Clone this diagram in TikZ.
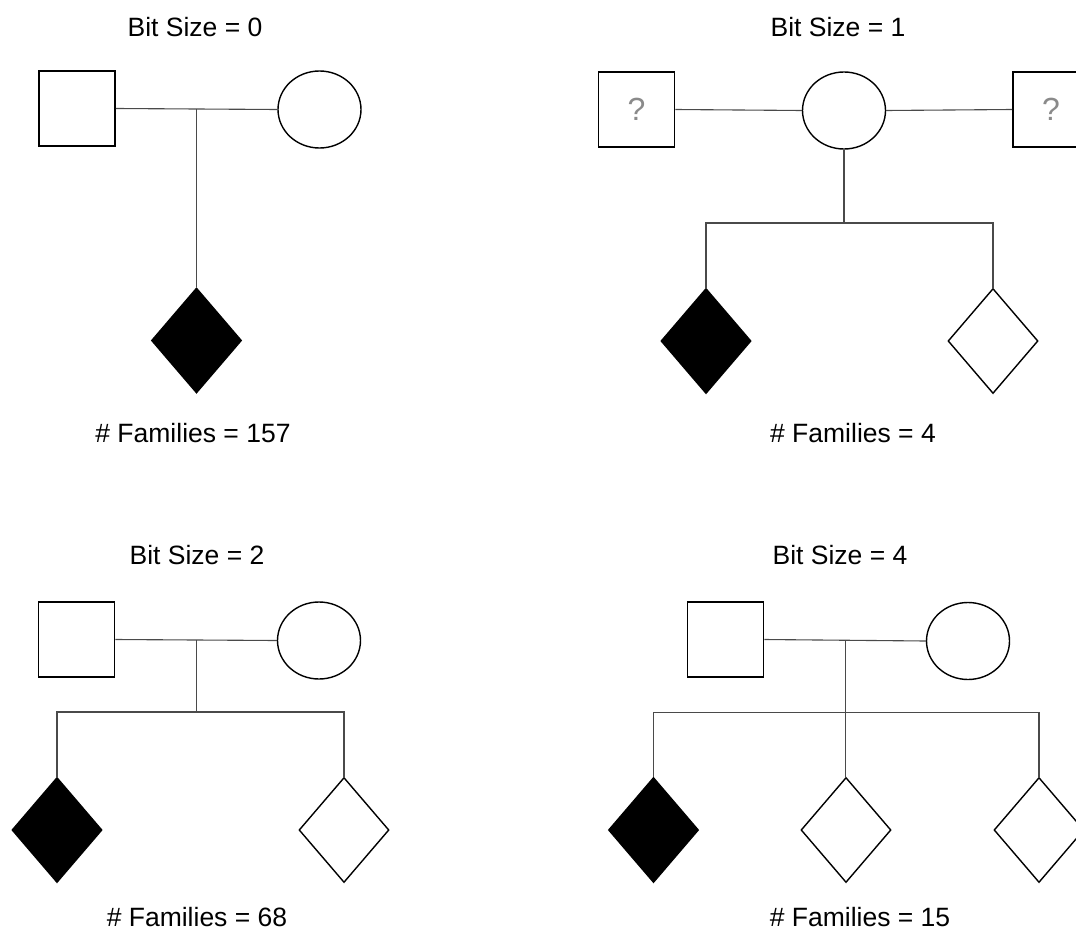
\documentclass[tikz,border=0pt]{standalone}
\usepackage{fontspec}
\setmainfont{Liberation Sans}
\usetikzlibrary{shapes.geometric,calc}
\definecolor{linegray}{HTML}{4A4A4A}
\definecolor{qgray}{HTML}{8A8A8A}
\tikzset{
  male/.style={draw=black, line width=1.7pt, fill=white, rectangle, minimum width=76pt, minimum height=75pt, inner sep=0pt},
  female/.style={draw=black, line width=1.4pt, fill=white, ellipse, minimum width=83pt, minimum height=77pt, inner sep=0pt},
  affected/.style={draw=black, line width=1.4pt, fill=black, diamond, minimum width=90pt, minimum height=105pt, inner sep=0pt},
  unaffected/.style={draw=black, line width=1.4pt, fill=white, diamond, minimum width=90pt, minimum height=105pt, inner sep=0pt},
  conn/.style={draw=linegray, line width=1.1pt},
  label/.style={font=\fontsize{26.5}{30}\selectfont, inner sep=0pt, text=black},
  qmark/.style={font=\fontsize{32}{36}\selectfont, text=qgray}
}
\begin{document}
\begin{tikzpicture}[x=1pt, y=-1pt]
\useasboundingbox (0,0) rectangle (1076,931);
\clip (0,0) rectangle (1076,931);
\fill[white] (0,0) rectangle (1076,931);

% ---------- Panel 1: Bit Size = 0 ----------
\node[label] (t1) at (195,27) {Bit Size = 0};
\node[male] (m1) at (77,108.5) {};
\node[female] (f1) at (319.5,109.5) {};
\node[affected] (c1) at (196.5,340.5) {};
\coordinate (j1) at ($(m1.east)!0.5!(f1.west)$);
\draw[conn] (m1.east) -- (f1.west);
\draw[conn] (j1) -- (j1 |- c1.north);
\node[label] (n1) at (193,433) {\# Families = 157};

% ---------- Panel 2: Bit Size = 1 ----------
\node[label] (t2) at (838,27) {Bit Size = 1};
\node[male, qmark] (m2a) at (636.5,109.5) {?};
\node[female] (f2) at (844,110.5) {};
\node[male, qmark] (m2b) at (1051,109.5) {?};
\node[affected] (c2a) at (706,341) {};
\node[unaffected] (c2b) at (993,341) {};
\coordinate (b2) at (844,223);
\draw[conn] (m2a.east) -- (f2.west);
\draw[conn] (f2.east) -- (m2b.west);
\draw[conn] (f2.south) -- (b2);
\draw[conn] (c2a.north) -- (c2a.north |- b2) -- (c2b.north |- b2) -- (c2b.north);
\node[label] (n2) at (853,433) {\# Families = 4};

% ---------- Panel 3: Bit Size = 2 ----------
\node[label] (t3) at (197,555) {Bit Size = 2};
\node[male] (m3) at (76.5,639.5) {};
\node[female] (f3) at (319,640.5) {};
\node[affected] (c3a) at (57,830) {};
\node[unaffected] (c3b) at (344,830) {};
\coordinate (j3) at ($(m3.east)!0.5!(f3.west)$);
\coordinate (b3) at (196,712);
\draw[conn] (m3.east) -- (f3.west);
\draw[conn] (j3) -- (j3 |- b3);
\draw[conn] (c3a.north) -- (c3a.north |- b3) -- (c3b.north |- b3) -- (c3b.north);
\node[label] (n3) at (197,917) {\# Families = 68};

% ---------- Panel 4: Bit Size = 4 ----------
\node[label] (t4) at (840,555) {Bit Size = 4};
\node[male] (m4) at (725.5,639.5) {};
\node[female] (f4) at (968,641) {};
\node[affected] (c4a) at (653.5,830) {};
\node[unaffected] (c4b) at (846,830) {};
\node[unaffected] (c4c) at (1039,830) {};
\coordinate (j4) at ($(m4.east)!0.5!(f4.west)$);
\coordinate (b4) at (846,712.5);
\draw[conn] (m4.east) -- (f4.west);
\draw[conn] (j4) -- (j4 |- c4b.north);
\draw[conn] (c4a.north) -- (c4a.north |- b4) -- (c4c.north |- b4) -- (c4c.north);
\node[label] (n4) at (860,917) {\# Families = 15};
\end{tikzpicture}
\end{document}
